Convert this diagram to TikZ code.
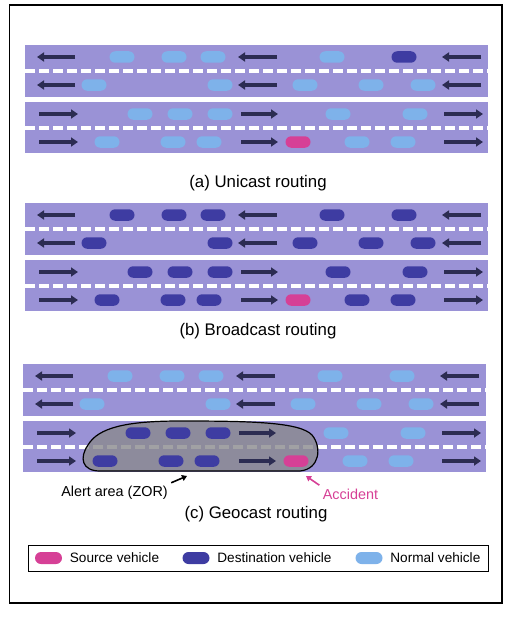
\documentclass[tikz,border=0pt]{standalone}
\usepackage{fontspec}
\setmainfont{Liberation Sans}
\usetikzlibrary{arrows.meta,positioning}

\definecolor{roadpurple}{RGB}{154, 146, 214}
\definecolor{arrowdark}{RGB}{44, 44, 82}
\definecolor{normalblue}{RGB}{126, 178, 234}
\definecolor{destblue}{RGB}{62, 60, 162}
\definecolor{sourcepink}{RGB}{214, 64, 150}
\definecolor{zonegray}{RGB}{138, 138, 142}

\begin{document}
\begin{tikzpicture}[x=1pt, y=-1pt, font=\fontsize{16.8}{20}\selectfont,
    road/.style={fill=roadpurple},
    lanedash/.style={white, line width=4pt, dash pattern=on 10pt off 4pt},
    flow/.style={arrowdark, line width=3.5pt, -{Triangle[length=7pt, width=9pt]}},
    car/.style={rounded corners=5.75pt, minimum width=25pt, minimum height=11.5pt, inner sep=0pt},
    normalcar/.style={car, fill=normalblue},
    destcar/.style={car, fill=destblue},
    sourcecar/.style={car, fill=sourcepink},
    legendcar/.style={rounded corners=6pt, minimum width=27pt, minimum height=12pt, inner sep=0pt},
    legendtext/.style={font=\fontsize{13.6}{16}\selectfont, inner sep=0pt},
    pointer/.style={line width=1.6pt, -{Triangle[length=5pt, width=6pt]}}]

            \useasboundingbox (0,0) rectangle (514,618);
            \draw[line width=1.3pt] (9.5,5) rectangle (502,603);

            % roads and lane markings
            \foreach \px/\py in {0/45, 0/203, -2/364} {
                \begin{scope}[shift={(\px,\py)}]
                    \fill[road] (25,0) rectangle (488,52);
                    \fill[road] (25,57) rectangle (488,108);
                    \draw[lanedash] (25,26) -- (488,26);
                    \draw[lanedash] (25,83) -- (488,83);
                \end{scope}
            }

            % alert area (ZOR)
            \draw[fill=zonegray, fill opacity=0.8, line width=1.2pt]
                (100,471) .. controls (82,471) and (79,458) .. (88,445)
                .. controls (98,428) and (125,421) .. (180,421)
                .. controls (250,421) and (300,422) .. (312,435)
                .. controls (322,447) and (320,469) .. (300,471) -- cycle;

            % driving directions
            \foreach \px/\py in {0/45, 0/203, -2/364} {
                \begin{scope}[shift={(\px,\py)}]
                    \foreach \xa/\xb in {75/37, 277/238, 481/442} {
                        \draw[flow] (\xa,12) -- (\xb,12);
                        \draw[flow] (\xa,40) -- (\xb,40);
                    }
                    \foreach \xa/\xb in {39/78, 241/278, 444/483} {
                        \draw[flow] (\xa,69) -- (\xb,69);
                        \draw[flow] (\xa,97) -- (\xb,97);
                    }
                \end{scope}
            }

            % (a) unicast
            \begin{scope}[shift={(0,45)}]
                \foreach \x [count=\i] in {122, 174, 213, 332} \node[normalcar] (a1\i) at (\x,12) {};
                \node[destcar] (adest) at (404,12) {};
                \foreach \x [count=\i] in {94, 220, 305, 371, 423} \node[normalcar] (a2\i) at (\x,40) {};
                \foreach \x [count=\i] in {140, 180, 220, 338, 415} \node[normalcar] (a3\i) at (\x,69) {};
                \foreach \x [count=\i] in {107, 173, 209, 357, 403} \node[normalcar] (a4\i) at (\x,97) {};
                \node[sourcecar] (asrc) at (298,97) {};
            \end{scope}
            \node (capa) at (258,183) {(a) Unicast routing};

            % (b) broadcast
            \begin{scope}[shift={(0,203)}]
                \foreach \x [count=\i] in {122, 174, 213, 332, 404} \node[destcar] (b1\i) at (\x,12) {};
                \foreach \x [count=\i] in {94, 220, 305, 371, 423} \node[destcar] (b2\i) at (\x,40) {};
                \foreach \x [count=\i] in {140, 180, 220, 338, 415} \node[destcar] (b3\i) at (\x,69) {};
                \foreach \x [count=\i] in {107, 173, 209, 357, 403} \node[destcar] (b4\i) at (\x,97) {};
                \node[sourcecar] (bsrc) at (298,97) {};
            \end{scope}
            \node (capb) at (258,331) {(b) Broadcast routing};

            % (c) geocast
            \begin{scope}[shift={(-2,364)}]
                \foreach \x [count=\i] in {122, 174, 213, 332, 404} \node[normalcar] (c1\i) at (\x,12) {};
                \foreach \x [count=\i] in {94, 220, 305, 371, 423} \node[normalcar] (c2\i) at (\x,40) {};
                \foreach \x [count=\i] in {140, 180, 220} \node[destcar] (c3\i) at (\x,69) {};
                \foreach \x [count=\i] in {338, 415} \node[normalcar] (c3n\i) at (\x,69) {};
                \foreach \x [count=\i] in {107, 173, 209} \node[destcar] (c4\i) at (\x,97) {};
                \foreach \x [count=\i] in {357, 403} \node[normalcar] (c4n\i) at (\x,97) {};
                \node[sourcecar] (csrc) at (298,97) {};
            \end{scope}

            \node[font=\fontsize{14.4}{17}\selectfont] (zorlabel) at (114.5,493) {Alert area (ZOR)};
            \coordinate (zortip) at (187,476);
            \draw[pointer] (zorlabel.north east) -- (zortip);
            \node[sourcepink, font=\fontsize{14.4}{17}\selectfont] (accident) at (350.5,494) {Accident};
            \coordinate (accidenttip) at (306,476);
            \draw[pointer, sourcepink] (accident.north west) -- (accidenttip);
            \node (capc) at (256,514) {(c) Geocast routing};

            % legend
            \draw[line width=1pt] (28,545) rectangle (488,571);
            \node[legendcar, fill=sourcepink] (lgsrc) at (48.5,558) {};
            \node[legendtext, right=7.5pt of lgsrc] (lgsrctext) {Source vehicle};
            \node[legendcar, fill=destblue] (lgdest) at (196,558) {};
            \node[legendtext, right=7.5pt of lgdest] (lgdesttext) {Destination vehicle};
            \node[legendcar, fill=normalblue] (lgnorm) at (369,558) {};
            \node[legendtext, right=7.5pt of lgnorm] (lgnormtext) {Normal vehicle};

        \end{tikzpicture}
\end{document}
